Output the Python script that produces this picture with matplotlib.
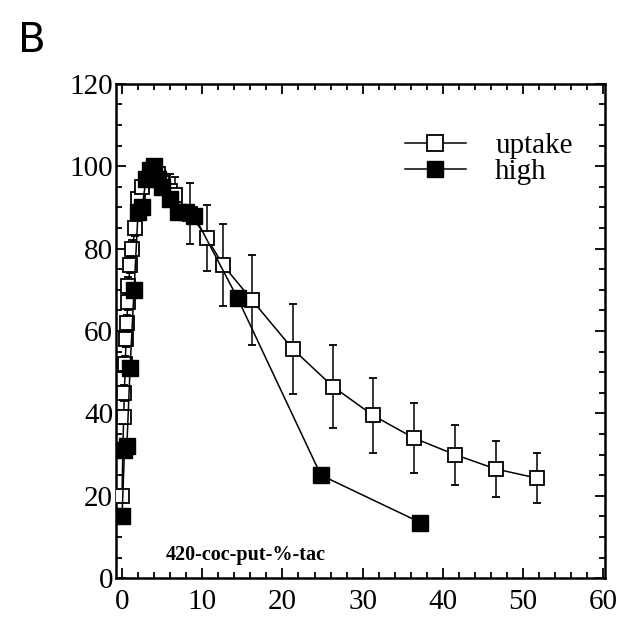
import matplotlib.pyplot as plt
from matplotlib.ticker import MultipleLocator
from matplotlib.lines import Line2D

plt.rcParams['font.family'] = ['Liberation Serif', 'DejaVu Serif']

# uptake (open squares, with SEM bars)
uptake_x = [0, 0.1, 0.2, 0.3, 0.4, 0.5, 0.6, 0.7, 0.8, 1.0, 1.3, 1.6, 2.0, 2.5, 3.0, 3.5,
            4.0, 4.5, 5.0, 6.0, 6.6, 8.5, 10.6, 12.6, 16.2, 21.3, 26.3, 31.3, 36.4, 41.5, 46.6, 51.7]
uptake_y = [20, 31, 39, 45, 52, 58, 62, 67, 71, 76, 80, 85, 92, 95, 97, 99,
            100, 98, 96, 94, 93, 88.5, 82.5, 76, 67.5, 55.6, 46.5, 39.5, 34, 30, 26.5, 24.3]
uptake_err = [1, 1.5, 1.5, 2, 2, 2, 2, 2, 2, 2, 2, 2, 2, 2, 2, 2,
              1, 2, 3, 4, 4.5, 7.5, 8, 10, 11, 11, 10, 9, 8.5, 7.3, 6.7, 6]

# high (filled squares)
high_x = [0, 0.3, 0.6, 1.0, 1.5, 2.0, 2.5, 3.0, 3.5, 4.0, 4.5, 5.0, 6.0, 7.0, 8.0, 9.0, 14.4, 24.8, 37.2]
high_y = [15, 31, 32, 51, 70, 89, 90, 97, 99, 100, 97, 95, 92, 89, 89, 88, 68, 25, 13.5]

fig = plt.figure(figsize=(6.34, 6.21), dpi=100)
ax = fig.add_axes([0.183, 0.069, 0.771, 0.796])

ax.errorbar(uptake_x, uptake_y, yerr=uptake_err, color='black', lw=1.1,
            marker='s', ms=9.5, mfc='white', mec='black', mew=1.3,
            elinewidth=1.1, capsize=3, capthick=1.1, zorder=3)
ax.plot(high_x, high_y, color='black', lw=1.1, marker='s', ms=11,
        mfc='black', mec='black', zorder=4)

ax.set_xlim(-0.75, 60.2)
ax.set_ylim(0, 120)
ax.xaxis.set_major_locator(MultipleLocator(10))
ax.xaxis.set_minor_locator(MultipleLocator(2))
ax.yaxis.set_major_locator(MultipleLocator(20))
ax.yaxis.set_minor_locator(MultipleLocator(5))
ax.tick_params(which='both', direction='in', top=True, right=True, width=1.3)
ax.tick_params(which='major', length=7, labelsize=21)
ax.tick_params(axis='x', which='major', pad=8)
ax.tick_params(axis='y', which='major', pad=2)
ax.tick_params(which='minor', length=4)
for sp in ax.spines.values():
    sp.set_linewidth(1.8)

handles = [
    Line2D([], [], color='black', lw=1.1, marker='s', ms=11, mfc='white', mec='black', mew=1.3),
    Line2D([], [], color='black', lw=1.1, marker='s', ms=12, mfc='black', mec='black'),
]
ax.legend(handles, ['uptake', 'high'], loc='upper left', bbox_to_anchor=(0.549, 0.943),
          frameon=False, fontsize=21, handlelength=2.1, labelspacing=0.0,
          handletextpad=1.0, borderpad=0.2)

ax.text(5.4, 5.6, '420-coc-put-%-tac', fontsize=14.5, fontweight='bold', ha='left', va='center')

fig.text(0.028, 0.934, 'B', fontsize=29, family='DejaVu Sans', ha='left', va='center')

fig.savefig('out.png', dpi=100)
